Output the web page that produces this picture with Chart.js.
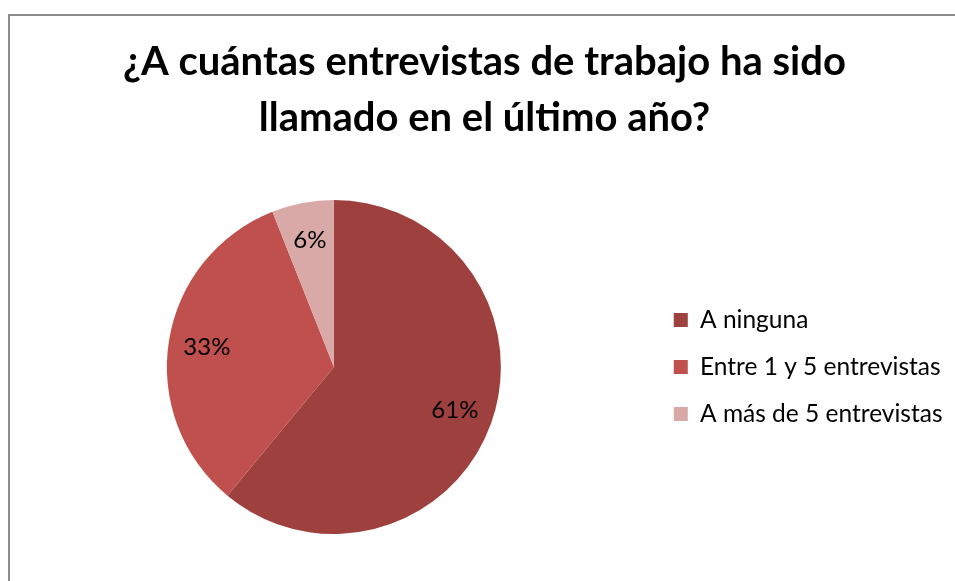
<!DOCTYPE html>
<html>
<head>
<meta charset="utf-8">
<script src="https://cdn.jsdelivr.net/npm/chart.js@4.4.0/dist/chart.umd.min.js"></script>
<style>
  html, body { margin: 0; padding: 0; background: #fff; overflow: hidden; width: 955px; height: 581px; }
  #frame { position: absolute; left: 8px; top: 14px; width: 1000px; height: 1000px; border: 2px solid #8a8a8a; box-sizing: border-box; }
  #chart { position: absolute; left: 0; top: 0; }
</style>
</head>
<body>
<div id="frame"></div>
<canvas id="chart" width="975" height="581"></canvas>
<script>
const titleLines = ['¿A cuántas entrevistas de trabajo ha sido', 'llamado en el último año?']
const categories = ['A ninguna', 'Entre 1 y 5 entrevistas', 'A más de 5 entrevistas']
const percentages = [61, 33, 6]
const sliceColors = ['#9E413E', '#C0504D', '#D9A9A8']

// draws "61%" etc inside each slice
const sliceLabels = {
  id: 'sliceLabels',
  afterDatasetsDraw(chart) {
    const ctx = chart.ctx
    const meta = chart.getDatasetMeta(0)
    ctx.save()
    ctx.font = '24px Lato'
    ctx.fillStyle = '#000'
    ctx.textAlign = 'center'
    ctx.textBaseline = 'middle'
    meta.data.forEach((arc, i) => {
      const p = arc.getProps(['x', 'y', 'startAngle', 'endAngle', 'outerRadius'], true)
      const mid = (p.startAngle + p.endAngle) / 2
      const r = p.outerRadius * 0.77
      ctx.fillText(percentages[i] + '%', p.x + Math.cos(mid) * r, p.y + Math.sin(mid) * r)
    })
    ctx.restore()
  }
}

new Chart(document.getElementById('chart'), {
  type: 'pie',
  data: {
    labels: categories,
    datasets: [{
      data: percentages,
      backgroundColor: sliceColors,
      borderWidth: 0
    }]
  },
  options: {
    responsive: false,
    animation: false,
    layout: {
      padding: { left: 16.5, right: 22.5, top: 0, bottom: 47 }
    },
    plugins: {
      title: {
        display: true,
        text: titleLines,
        color: '#000',
        font: { family: 'Lato', size: 40, weight: 'bold', lineHeight: '56px' },
        padding: { top: 34, bottom: 54 }
      },
      legend: {
        position: 'right',
        align: 'center',
        fullSize: false,
        labels: {
          boxWidth: 14,
          boxHeight: 14,
          padding: 22.5,
          color: '#000',
          font: { family: 'Lato', size: 24.5 }
        }
      },
      tooltip: { enabled: false }
    }
  },
  plugins: [sliceLabels]
})
</script>
</body>
</html>
